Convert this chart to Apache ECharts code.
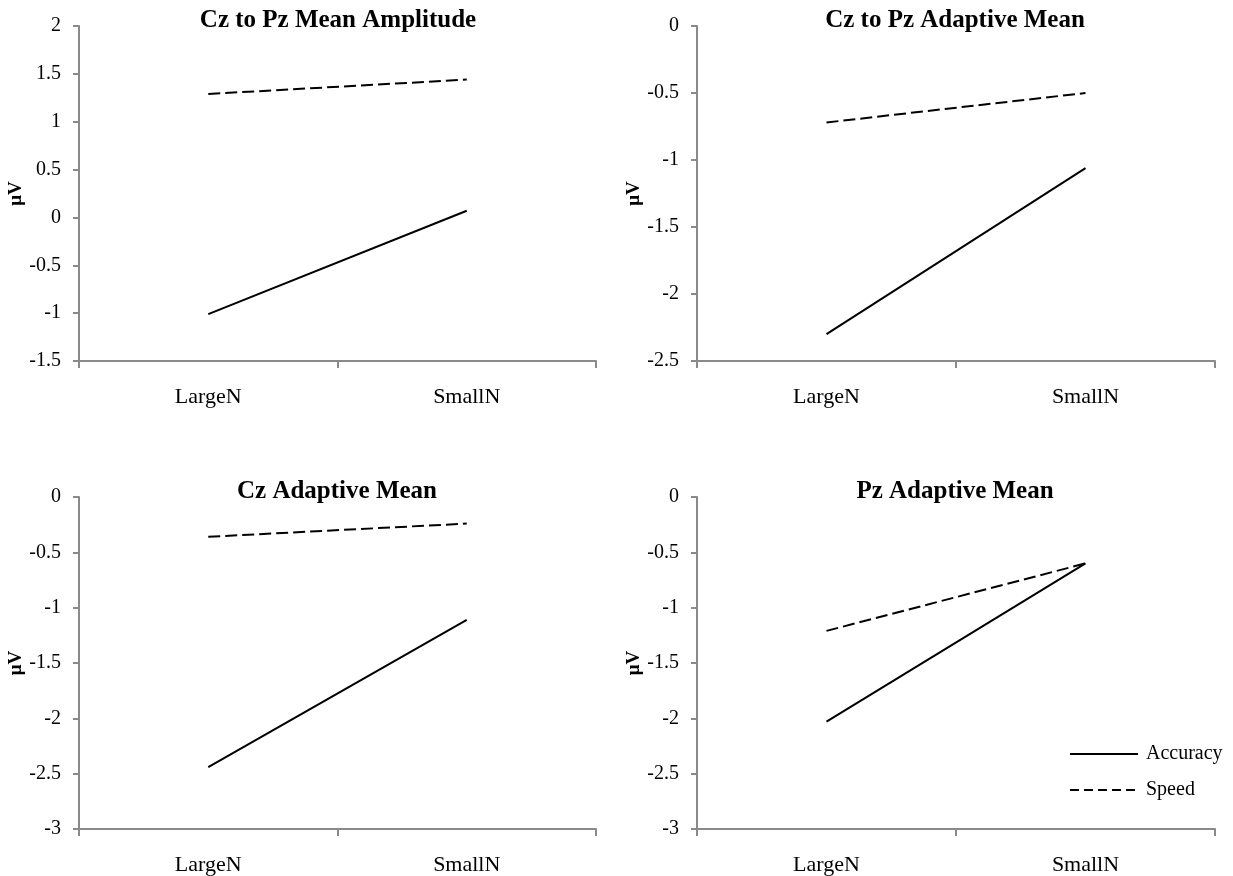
<!DOCTYPE html>
<html lang="en">
<head>
    <meta charset="UTF-8">
    <title>Adaptive Mean</title>
    <script src="https://cdn.jsdelivr.net/npm/echarts@6/dist/echarts.min.js"></script>
    <style>
        body { margin: 0; background: #fff; }
        #main { width: 1233px; height: 876px; }
    </style>
</head>
<body>
<div id="main"></div>
<script>
    let categories = ['LargeN', 'SmallN'];
    let titles = ['Cz to Pz Mean Amplitude', 'Cz to Pz Adaptive Mean', 'Cz Adaptive Mean', 'Pz Adaptive Mean'];

    let accuracy1 = [-1.01, 0.07];
    let speed1 = [1.29, 1.44];
    let accuracy2 = [-2.30, -1.06];
    let speed2 = [-0.72, -0.50];
    let accuracy3 = [-2.44, -1.11];
    let speed3 = [-0.36, -0.24];
    let accuracy4 = [-2.03, -0.60];
    let speed4 = [-1.21, -0.60];

    // y ranges per panel [min, max]
    let yRanges = [[-1.5, 2], [-2.5, 0], [-3, 0], [-3, 0]];

    let font = 'Liberation Serif';
    let axisColor = '#8a8a8a';

    let grids = [
        {left: 79, top: 26, width: 517, height: 335},
        {left: 697, top: 26, width: 518, height: 335},
        {left: 79, top: 497, width: 517, height: 338},
        {left: 697, top: 497, width: 518, height: 338}
    ];
    let titlePos = [[333, 3], [950, 3], [332, 474], [950, 474]];

    let accData = [accuracy1, accuracy2, accuracy3, accuracy4];
    let spdData = [speed1, speed2, speed3, speed4];

    let xAxes = [], yAxes = [], series = [], titleList = [];
    for (let i = 0; i < 4; i++) {
        xAxes.push({
            type: 'category',
            gridIndex: i,
            data: categories,
            boundaryGap: true,
            axisLine: {onZero: false, lineStyle: {color: axisColor, width: 2}},
            axisTick: {show: true, length: 7, lineStyle: {color: axisColor, width: 2}},
            axisLabel: {color: '#000', fontFamily: font, fontSize: 22, margin: 25}
        });
        yAxes.push({
            type: 'value',
            gridIndex: i,
            min: yRanges[i][0],
            max: yRanges[i][1],
            interval: 0.5,
            name: 'μV',
            nameLocation: 'middle',
            nameGap: 49,
            nameTextStyle: {color: '#000', fontFamily: font, fontSize: 19, fontWeight: 'bold'},
            splitLine: {show: false},
            axisLine: {show: true, lineStyle: {color: axisColor, width: 2}},
            axisTick: {show: true, length: 6, lineStyle: {color: axisColor, width: 2}},
            axisLabel: {color: '#000', fontFamily: font, fontSize: 20, margin: 18}
        });
        series.push({
            name: 'Accuracy',
            type: 'line',
            xAxisIndex: i,
            yAxisIndex: i,
            data: accData[i],
            symbol: 'none',
            lineStyle: {color: '#000', width: 2},
            itemStyle: {color: '#000'}
        });
        series.push({
            name: 'Speed',
            type: 'line',
            xAxisIndex: i,
            yAxisIndex: i,
            data: spdData[i],
            symbol: 'none',
            lineStyle: {color: '#000', width: 2, type: [12, 5]},
            itemStyle: {color: '#000'}
        });
        titleList.push({
            text: titles[i],
            left: titlePos[i][0],
            top: titlePos[i][1],
            textAlign: 'center',
            textStyle: {color: '#000', fontFamily: font, fontSize: 25, fontWeight: 'bold'}
        });
    }

    let myChart = echarts.init(document.getElementById('main'));
    let option = {
        animation: false,
        title: titleList,
        legend: {
            data: [
                {name: 'Accuracy'},
                {name: 'Speed', lineStyle: {type: [9, 5]}}
            ],
            orient: 'vertical',
            left: 1064,
            top: 739,
            itemWidth: 68,
            itemHeight: 14,
            itemGap: 16,
            itemStyle: {color: 'transparent', borderWidth: 0},
            textStyle: {color: '#000', fontFamily: font, fontSize: 20, padding: [0, 0, 0, 3]}
        },
        grid: grids,
        xAxis: xAxes,
        yAxis: yAxes,
        series: series
    };
    myChart.setOption(option);
</script>
</body>
</html>
